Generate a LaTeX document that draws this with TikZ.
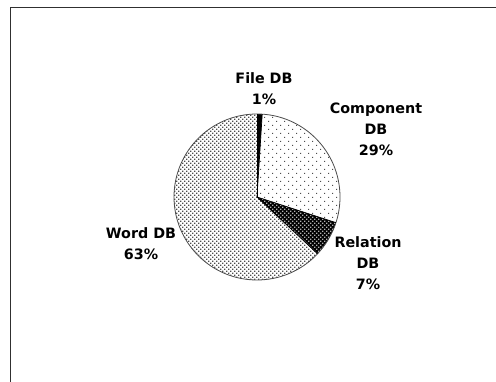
\documentclass[tikz,border=0pt]{standalone}
\usepackage{fontspec}
\setmainfont{DejaVu Sans}
\usetikzlibrary{patterns}
\pgfdeclarepatternformonly{sparsedots}{\pgfqpoint{-1pt}{-1pt}}{\pgfqpoint{9pt}{9pt}}{\pgfqpoint{8pt}{8pt}}{%
  \pgfpathrectangle{\pgfqpoint{0pt}{0pt}}{\pgfqpoint{1.1pt}{1.1pt}}%
  \pgfpathrectangle{\pgfqpoint{4pt}{4pt}}{\pgfqpoint{1.1pt}{1.1pt}}%
  \pgfusepath{fill}}
\pgfdeclarepatternformonly{densedots}{\pgfqpoint{-1pt}{-1pt}}{\pgfqpoint{5pt}{5pt}}{\pgfqpoint{4pt}{4pt}}{%
  \pgfpathrectangle{\pgfqpoint{0pt}{0pt}}{\pgfqpoint{1.4pt}{1.4pt}}%
  \pgfpathrectangle{\pgfqpoint{2pt}{2pt}}{\pgfqpoint{1.4pt}{1.4pt}}%
  \pgfusepath{fill}}
\definecolor{framegray}{HTML}{303030}
\begin{document}
\begin{tikzpicture}[x=1pt,y=1pt,
  lbl/.style={font=\bfseries\fontsize{14.3}{21}\selectfont, align=center, inner sep=0pt, text=black},
  slice/.style={draw=black, line width=0.7pt}]
\useasboundingbox[fill=white] (0,0) rectangle (496,382);
% frame (only left and top sides visible)
\draw[framegray, line width=1.6pt] (10.5,0) -- (10.5,374.5) -- (496,374.5);
\coordinate (c) at (257,185);
\def\R{83}
% Word DB 63%
\fill[white] (c) -- ++(-43.2:\R) arc[start angle=-43.2, end angle=-270, radius=\R] -- cycle;
\path[pattern=densedots, pattern color=black!70] (c) -- ++(-43.2:\R) arc[start angle=-43.2, end angle=-270, radius=\R] -- cycle;
% Component DB 29%
\path[pattern=sparsedots, pattern color=black!70] (c) -- ++(86.4:\R) arc[start angle=86.4, end angle=-18, radius=\R] -- cycle;
% Relation DB 7%
\fill[black] (c) -- ++(-18:\R) arc[start angle=-18, end angle=-43.2, radius=\R] -- cycle;
\path[pattern=densedots, pattern color=white!70!black] (c) -- ++(-18:\R) arc[start angle=-18, end angle=-43.2, radius=\R] -- cycle;
% File DB 1%
\fill[black] (c) -- ++(90:\R) arc[start angle=90, end angle=86.4, radius=\R] -- cycle;
% outlines
\draw[black!70, line width=0.8pt] (c) circle[radius=\R];
\draw[slice] (c) -- ++(90:\R);
\draw[slice] (c) -- ++(86.4:\R);
\draw[slice] (c) -- ++(-18:\R);
\draw[slice] (c) -- ++(-43.2:\R);
% labels
\node[lbl] (file) at (264,293) {File DB\\1\%};
\node[lbl] (comp) at (376,253) {Component\\DB\\29\%};
\node[lbl] (rel) at (368,119) {Relation\\DB\\7\%};
\node[lbl] (word) at (141,138.5) {Word DB\\63\%};
\end{tikzpicture}
\end{document}
